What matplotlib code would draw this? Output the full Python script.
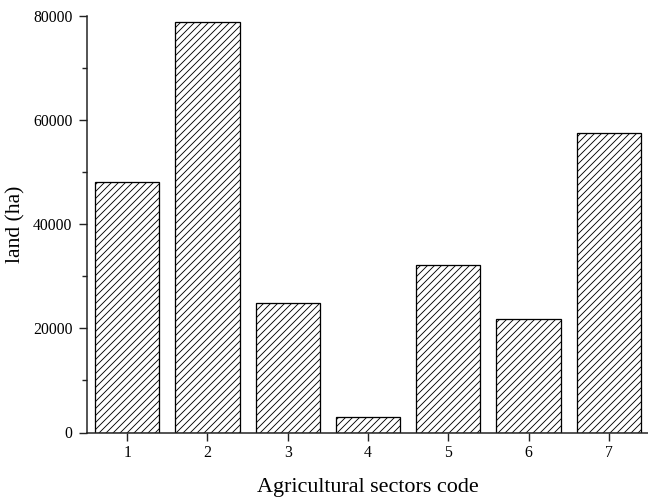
import matplotlib
matplotlib.use("Agg")
from matplotlib import pyplot as plt
from matplotlib.ticker import MultipleLocator

# land use per agricultural sector
sectors = [1, 2, 3, 4, 5, 6, 7]
land_ha = [48100, 78900, 24900, 2900, 32100, 21800, 57500]

plt.rcParams["font.family"] = ["Liberation Serif", "DejaVu Serif"]
plt.rcParams["hatch.linewidth"] = 0.75
plt.rcParams["hatch.color"] = "#555555"


def main():
    dpi = 84
    fig = plt.figure(figsize=(648 / dpi, 499 / dpi), dpi=dpi)
    ax = fig.add_axes([87 / 648, 66.5 / 499, 562 / 648, 416.5 / 499])

    ax.bar(sectors, land_ha, width=0.8, color="white", edgecolor="black",
           linewidth=1.1, hatch="////")

    ax.set_xlim(0.5, 7.5)
    ax.set_ylim(0, 80000)
    ax.set_xticks(sectors)
    ax.yaxis.set_major_locator(MultipleLocator(20000))
    ax.yaxis.set_minor_locator(MultipleLocator(10000))

    for side in ["top", "right"]:
        ax.spines[side].set_visible(False)
    for side in ["left", "bottom"]:
        ax.spines[side].set_linewidth(1.3)
        ax.spines[side].set_color("#222222")

    ax.tick_params(which="major", direction="out", length=7, width=1.2,
                   labelsize=13.5, color="#222222")
    ax.tick_params(which="minor", direction="out", length=4.3, width=1.2,
                   color="#222222")
    ax.tick_params(axis="y", pad=5.5)
    ax.tick_params(axis="x", pad=4)

    ax.set_xlabel("Agricultural sectors code", fontsize=19)
    ax.set_ylabel("land (ha)", fontsize=18.5)
    ax.xaxis.set_label_coords(0.5, -0.110)
    ax.yaxis.set_label_coords(-0.110, 0.5)

    fig.savefig("out.png", dpi=dpi)


if __name__ == "__main__":
    main()
